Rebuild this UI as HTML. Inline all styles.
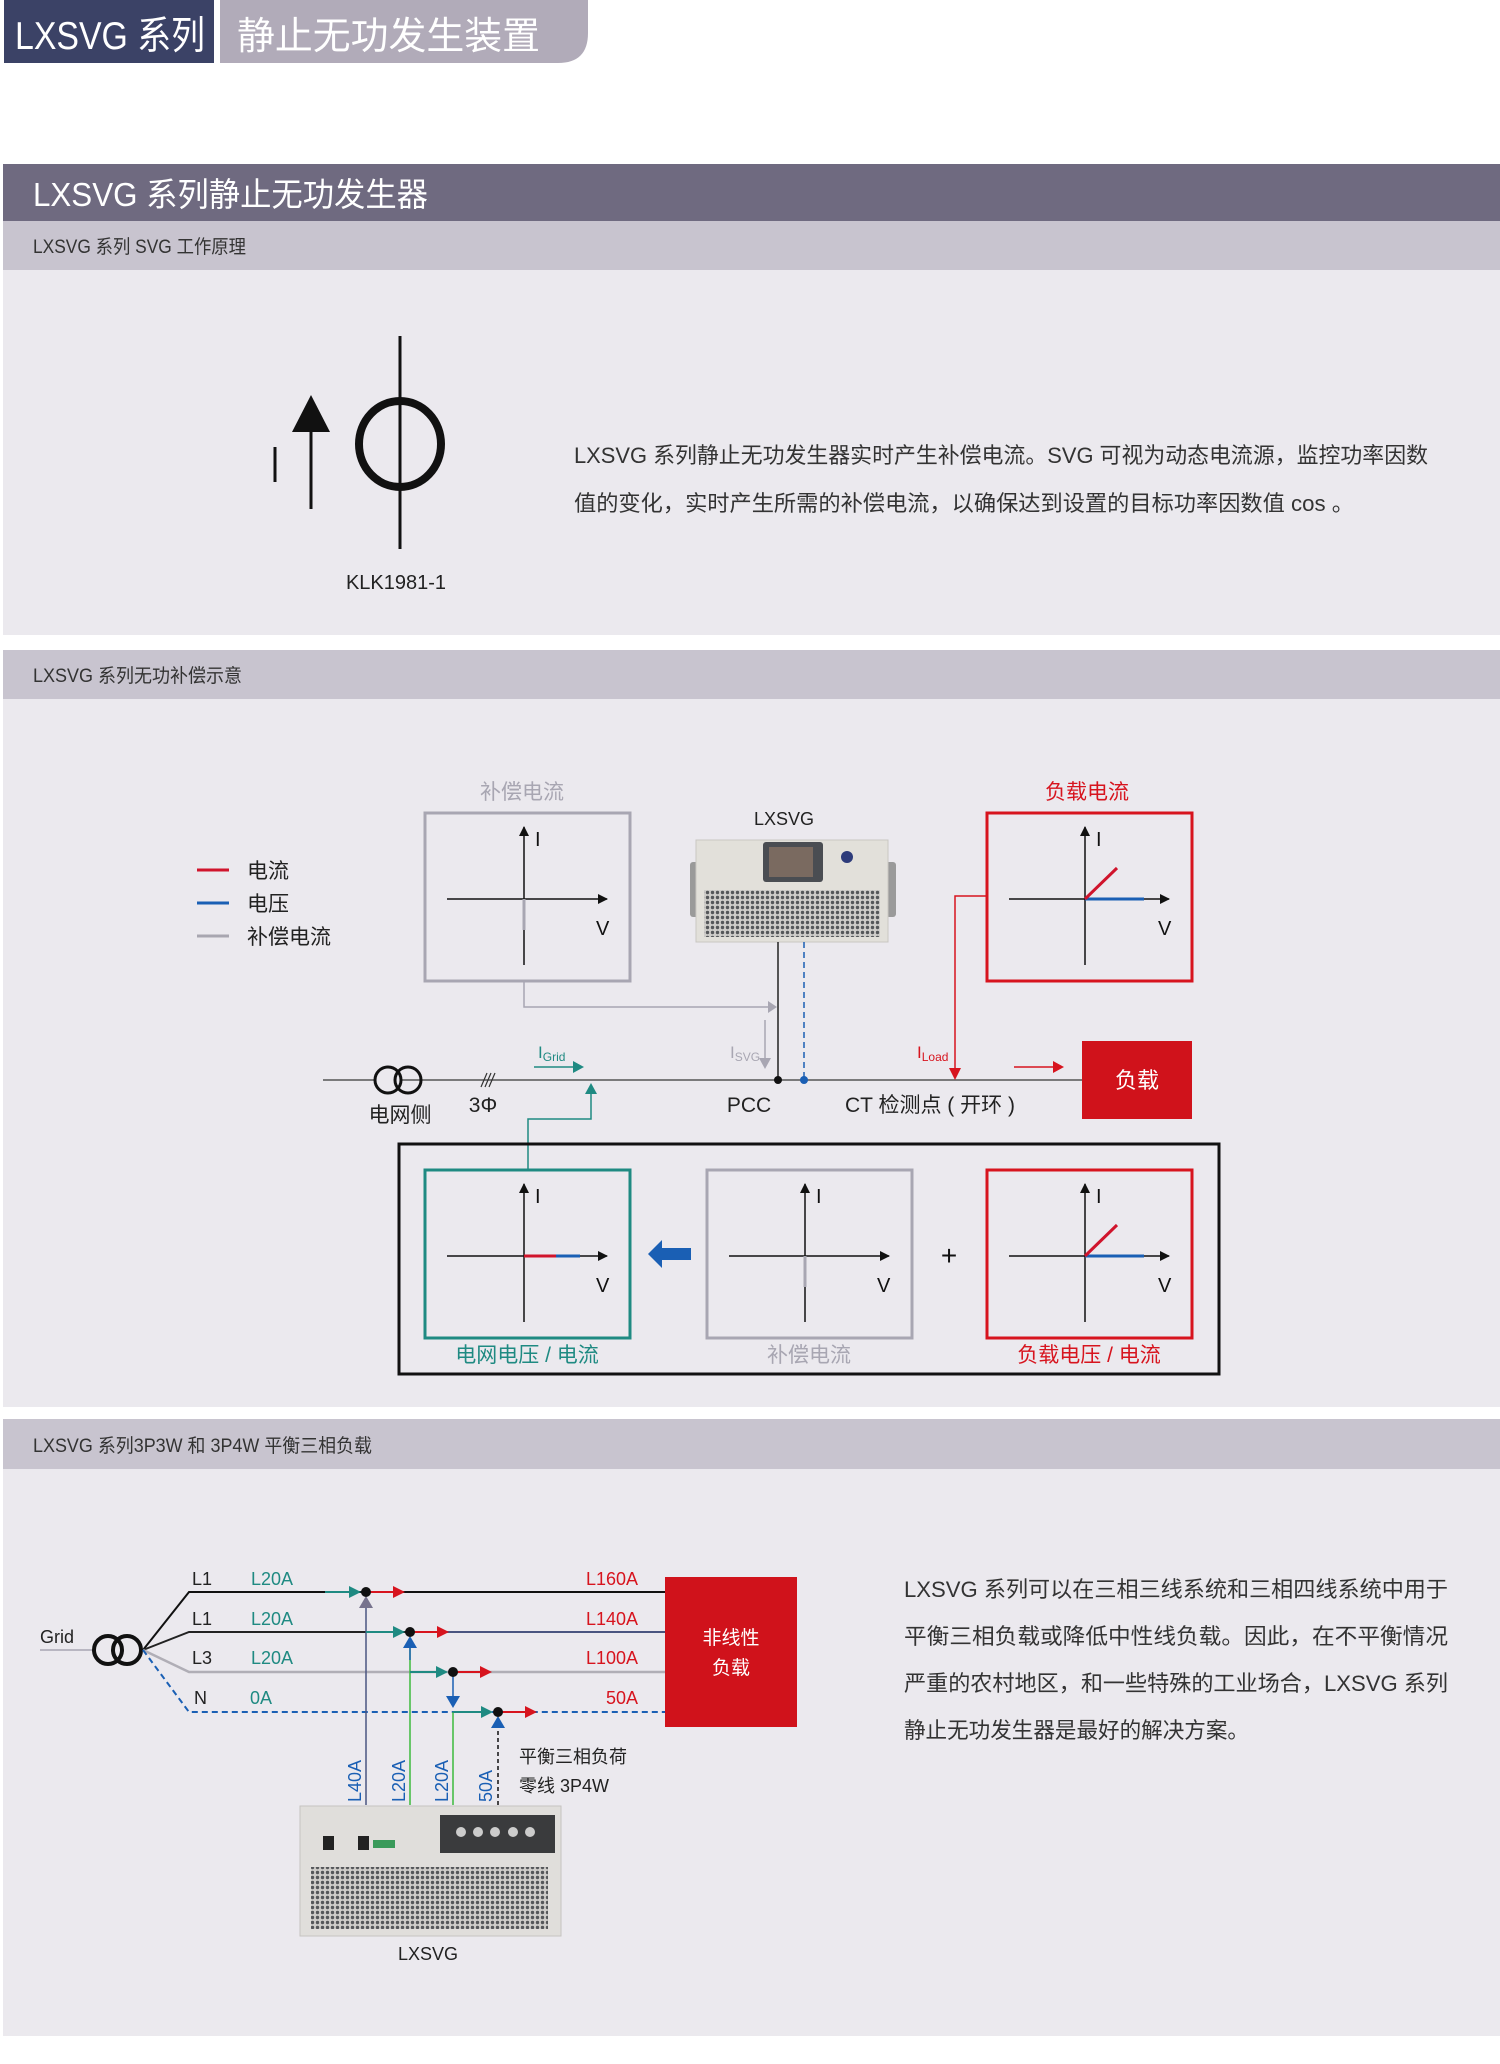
<!DOCTYPE html>
<html><head><meta charset="utf-8"><style>
html,body{margin:0;padding:0;background:#fff;}
svg{display:block;font-family:"Liberation Sans","Noto Sans CJK SC",sans-serif;}
</style></head><body>
<svg width="1500" height="2064" viewBox="0 0 1500 2064" xmlns="http://www.w3.org/2000/svg">
<defs>
<pattern id="holes" width="5" height="5" patternUnits="userSpaceOnUse"><rect width="5" height="5" fill="#cfcdca"/><circle cx="2.5" cy="2.5" r="1.7" fill="#55575a"/></pattern>
<marker id="ak" viewBox="0 0 10 10" refX="9" refY="5" markerWidth="10" markerHeight="10" markerUnits="userSpaceOnUse" orient="auto"><path d="M0,0L10,5L0,10z" fill="#111"/></marker>
</defs>
<rect width="1500" height="2064" fill="#fff"/>
<!-- top tabs -->
<rect x="4" y="0" width="210" height="63" fill="#3b4266"/>
<path d="M220,0H588V33Q588,63 558,63H220Z" fill="#b1abb9"/>
<text x="15" y="49" font-size="39" fill="#fff" textLength="190" lengthAdjust="spacingAndGlyphs">LXSVG 系列</text>
<text x="237" y="49" font-size="38" fill="#fff" textLength="303" lengthAdjust="spacingAndGlyphs">静止无功发生装置</text>

<!-- section 1 -->
<rect x="3" y="164" width="1497" height="57" fill="#6f6a80"/>
<text x="33" y="206" font-size="33" fill="#fff" textLength="395" lengthAdjust="spacingAndGlyphs">LXSVG 系列静止无功发生器</text>
<rect x="3" y="221" width="1497" height="49" fill="#c8c4cf"/>
<text x="33" y="253" font-size="19" fill="#333" textLength="213" lengthAdjust="spacingAndGlyphs">LXSVG 系列 SVG 工作原理</text>
<rect x="3" y="270" width="1497" height="365" fill="#ebe9ee"/>
<line x1="400" y1="336" x2="400" y2="549" stroke="#111" stroke-width="3"/>
<ellipse cx="400" cy="444" rx="41" ry="43" fill="none" stroke="#111" stroke-width="8"/>
<line x1="311" y1="425" x2="311" y2="509" stroke="#111" stroke-width="3"/>
<path d="M292,432L311,395L330,432Z" fill="#111"/>
<line x1="275" y1="447" x2="275" y2="482" stroke="#111" stroke-width="3"/>
<text x="396" y="589" font-size="20" fill="#222" text-anchor="middle">KLK1981-1</text>
<text x="574" y="463" font-size="22" fill="#333" textLength="854" lengthAdjust="spacingAndGlyphs">LXSVG 系列静止无功发生器实时产生补偿电流。SVG 可视为动态电流源，监控功率因数</text>
<text x="574" y="511" font-size="22" fill="#333" textLength="780" lengthAdjust="spacingAndGlyphs">值的变化，实时产生所需的补偿电流，以确保达到设置的目标功率因数值 cos 。</text>

<!-- section 2 -->
<rect x="3" y="650" width="1497" height="49" fill="#c8c4cf"/>
<text x="33" y="682" font-size="19" fill="#333" textLength="209" lengthAdjust="spacingAndGlyphs">LXSVG 系列无功补偿示意</text>
<rect x="3" y="699" width="1497" height="708" fill="#ebe9ee"/>
<!-- legend -->
<line x1="197" y1="870" x2="229" y2="870" stroke="#d0142c" stroke-width="3"/>
<line x1="197" y1="903" x2="229" y2="903" stroke="#1a5fb4" stroke-width="3"/>
<line x1="197" y1="936" x2="229" y2="936" stroke="#a8a6b0" stroke-width="3"/>
<text x="247" y="878" font-size="21" fill="#222">电流</text>
<text x="247" y="911" font-size="21" fill="#222">电压</text>
<text x="247" y="944" font-size="21" fill="#222">补偿电流</text>

<!-- chart boxes -->
<g id="b1">
<rect x="425" y="813" width="205" height="168" fill="none" stroke="#a8a6b2" stroke-width="3"/>
<line x1="524" y1="965" x2="524" y2="827" stroke="#111" stroke-width="1.5" marker-end="url(#ak)"/>
<line x1="447" y1="899" x2="607" y2="899" stroke="#111" stroke-width="1.5" marker-end="url(#ak)"/>
<line x1="524" y1="899" x2="524" y2="930" stroke="#a8a6b2" stroke-width="3"/>
<text x="535" y="846" font-size="20" fill="#111">I</text>
<text x="596" y="935" font-size="20" fill="#111">V</text>
</g>
<text x="522" y="799" font-size="21" fill="#a8a6b2" text-anchor="middle">补偿电流</text>

<rect x="987" y="813" width="205" height="168" fill="none" stroke="#d7141e" stroke-width="3"/>
<line x1="1085" y1="965" x2="1085" y2="827" stroke="#111" stroke-width="1.5" marker-end="url(#ak)"/>
<line x1="1009" y1="899" x2="1169" y2="899" stroke="#111" stroke-width="1.5" marker-end="url(#ak)"/>
<line x1="1085" y1="899" x2="1144" y2="899" stroke="#1a5fb4" stroke-width="3"/>
<line x1="1085" y1="899" x2="1117" y2="868" stroke="#d0142c" stroke-width="3"/>
<text x="1096" y="846" font-size="20" fill="#111">I</text>
<text x="1158" y="935" font-size="20" fill="#111">V</text>
<text x="1087" y="799" font-size="21" fill="#d7141e" text-anchor="middle">负载电流</text>

<!-- device 1 -->
<text x="784" y="825" font-size="18" fill="#222" text-anchor="middle">LXSVG</text>
<rect x="690" y="862" width="10" height="55" rx="3" fill="#9a9a9a"/>
<rect x="886" y="862" width="10" height="55" rx="3" fill="#9a9a9a"/>
<rect x="696" y="840" width="192" height="102" fill="#e2e0da" stroke="#c9c7c2"/>
<rect x="763" y="842" width="60" height="40" rx="3" fill="#4a4d52"/>
<rect x="769" y="847" width="44" height="30" fill="#7a6a60"/>
<circle cx="847" cy="857" r="6" fill="#2d3b7a"/>
<rect x="704" y="890" width="176" height="47" fill="url(#holes)"/>
<!-- lines to PCC -->
<line x1="778" y1="942" x2="778" y2="1080" stroke="#222" stroke-width="1.5"/>
<line x1="804" y1="942" x2="804" y2="1080" stroke="#1a5fb4" stroke-width="1.5" stroke-dasharray="6,4"/>
<path d="M524,981V1007H770" fill="none" stroke="#a8a6b2" stroke-width="1.5"/>
<path d="M768,1001L777,1007L768,1013Z" fill="#a8a6b2"/>
<line x1="765" y1="1020" x2="765" y2="1060" stroke="#a8a6b2" stroke-width="1.5"/>
<path d="M759,1058L765,1069L771,1058Z" fill="#a8a6b2"/>
<text x="730" y="1058" font-size="17" fill="#a8a6b2">I<tspan font-size="12" dy="3">SVG</tspan></text>
<!-- main line -->
<line x1="323" y1="1080" x2="1082" y2="1080" stroke="#555" stroke-width="1.5"/>
<circle cx="388" cy="1080" r="13" fill="#ebe9ee" stroke="#111" stroke-width="3"/>
<circle cx="408" cy="1080" r="13" fill="none" stroke="#111" stroke-width="3"/>
<path d="M481,1087L487,1073M485,1087L491,1073M489,1087L495,1073" stroke="#333" stroke-width="1.2"/>
<text x="400" y="1122" font-size="21" fill="#222" text-anchor="middle">电网侧</text>
<text x="483" y="1112" font-size="21" fill="#222" text-anchor="middle">3Φ</text>
<circle cx="778" cy="1080" r="4" fill="#111"/>
<circle cx="804" cy="1080" r="4" fill="#1a5fb4"/>
<text x="749" y="1112" font-size="21" fill="#222" text-anchor="middle">PCC</text>
<text x="845" y="1112" font-size="21" fill="#222">CT 检测点 ( 开环 )</text>
<!-- I grid -->
<line x1="534" y1="1067" x2="575" y2="1067" stroke="#1f8a82" stroke-width="1.5"/>
<path d="M573,1061L584,1067L573,1073Z" fill="#1f8a82"/>
<text x="538" y="1058" font-size="17" fill="#1f8a82">I<tspan font-size="12" dy="3">Grid</tspan></text>
<path d="M528,1170V1119H591V1092" fill="none" stroke="#1f8a82" stroke-width="1.5"/>
<path d="M585,1094L591,1083L597,1094Z" fill="#1f8a82"/>
<!-- I load -->
<path d="M987,896H955V1070" fill="none" stroke="#d7141e" stroke-width="1.5"/>
<path d="M949,1068L955,1080L961,1068Z" fill="#d7141e"/>
<text x="917" y="1058" font-size="17" fill="#d7141e">I<tspan font-size="12" dy="3">Load</tspan></text>
<line x1="1014" y1="1067" x2="1055" y2="1067" stroke="#d7141e" stroke-width="1.5"/>
<path d="M1053,1061L1064,1067L1053,1073Z" fill="#d7141e"/>
<rect x="1082" y="1041" width="110" height="78" fill="#d0121b"/>
<text x="1137" y="1088" font-size="22" fill="#fff" text-anchor="middle">负载</text>
<!-- bottom big box -->
<rect x="399" y="1144" width="820" height="230" fill="none" stroke="#111" stroke-width="3"/>
<rect x="425" y="1170" width="205" height="168" fill="none" stroke="#1f8a82" stroke-width="3"/>
<line x1="524" y1="1322" x2="524" y2="1184" stroke="#111" stroke-width="1.5" marker-end="url(#ak)"/>
<line x1="447" y1="1256" x2="607" y2="1256" stroke="#111" stroke-width="1.5" marker-end="url(#ak)"/>
<line x1="524" y1="1256" x2="556" y2="1256" stroke="#d0142c" stroke-width="3"/>
<line x1="556" y1="1256" x2="580" y2="1256" stroke="#1a5fb4" stroke-width="3"/>
<text x="535" y="1203" font-size="20" fill="#111">I</text>
<text x="596" y="1292" font-size="20" fill="#111">V</text>
<text x="527" y="1362" font-size="21" fill="#1f8a82" text-anchor="middle">电网电压 / 电流</text>

<rect x="707" y="1170" width="205" height="168" fill="none" stroke="#a8a6b2" stroke-width="3"/>
<line x1="805" y1="1322" x2="805" y2="1184" stroke="#111" stroke-width="1.5" marker-end="url(#ak)"/>
<line x1="729" y1="1256" x2="889" y2="1256" stroke="#111" stroke-width="1.5" marker-end="url(#ak)"/>
<line x1="805" y1="1256" x2="805" y2="1287" stroke="#a8a6b2" stroke-width="3"/>
<text x="816" y="1203" font-size="20" fill="#111">I</text>
<text x="877" y="1292" font-size="20" fill="#111">V</text>
<text x="809" y="1362" font-size="21" fill="#a8a6b2" text-anchor="middle">补偿电流</text>

<rect x="987" y="1170" width="205" height="168" fill="none" stroke="#d7141e" stroke-width="3"/>
<line x1="1085" y1="1322" x2="1085" y2="1184" stroke="#111" stroke-width="1.5" marker-end="url(#ak)"/>
<line x1="1009" y1="1256" x2="1169" y2="1256" stroke="#111" stroke-width="1.5" marker-end="url(#ak)"/>
<line x1="1085" y1="1256" x2="1144" y2="1256" stroke="#1a5fb4" stroke-width="3"/>
<line x1="1085" y1="1256" x2="1117" y2="1225" stroke="#d0142c" stroke-width="3"/>
<text x="1096" y="1203" font-size="20" fill="#111">I</text>
<text x="1158" y="1292" font-size="20" fill="#111">V</text>
<text x="1089" y="1362" font-size="21" fill="#d7141e" text-anchor="middle">负载电压 / 电流</text>

<path d="M648,1254L662,1240V1248H691V1260H662V1268Z" fill="#1a5fb4"/>
<text x="949" y="1265" font-size="28" fill="#111" text-anchor="middle">+</text>

<!-- section 3 -->
<rect x="3" y="1419" width="1497" height="50" fill="#c8c4cf"/>
<text x="33" y="1452" font-size="19" fill="#333" textLength="339" lengthAdjust="spacingAndGlyphs">LXSVG 系列3P3W 和 3P4W 平衡三相负载</text>
<rect x="3" y="1469" width="1497" height="567" fill="#ebe9ee"/>
<text x="40" y="1643" font-size="18" fill="#222">Grid</text>
<line x1="40" y1="1650" x2="92" y2="1650" stroke="#a8a6b2" stroke-width="1.5"/>
<circle cx="108" cy="1650" r="14" fill="none" stroke="#111" stroke-width="4"/>
<circle cx="127" cy="1650" r="14" fill="none" stroke="#111" stroke-width="4"/>
<path d="M143,1650L189,1592H665" fill="none" stroke="#111" stroke-width="2"/>
<path d="M143,1650L189,1632H665" fill="none" stroke="#222" stroke-width="2"/>
<line x1="410" y1="1632" x2="665" y2="1632" stroke="#4a5580" stroke-width="2"/>
<path d="M143,1650L189,1672H665" fill="none" stroke="#b0aeb6" stroke-width="2.5"/>
<path d="M143,1650L189,1712H665" fill="none" stroke="#1a5fb4" stroke-width="2" stroke-dasharray="6,4"/>
<g font-size="18">
<text x="192" y="1585" fill="#222">L1</text><text x="251" y="1585" fill="#1f8a82">L20A</text><text x="638" y="1585" fill="#d7141e" text-anchor="end">L160A</text>
<text x="192" y="1625" fill="#222">L1</text><text x="251" y="1625" fill="#1f8a82">L20A</text><text x="638" y="1625" fill="#d7141e" text-anchor="end">L140A</text>
<text x="192" y="1664" fill="#222">L3</text><text x="251" y="1664" fill="#1f8a82">L20A</text><text x="638" y="1664" fill="#d7141e" text-anchor="end">L100A</text>
<text x="194" y="1704" fill="#222">N</text><text x="250" y="1704" fill="#1f8a82">0A</text><text x="638" y="1704" fill="#d7141e" text-anchor="end">50A</text>
</g>
<rect x="665" y="1577" width="132" height="150" fill="#d0121b"/>
<text x="731" y="1644" font-size="19" fill="#fff" text-anchor="middle">非线性</text>
<text x="731" y="1674" font-size="19" fill="#fff" text-anchor="middle">负载</text>
<!-- verticals -->
<line x1="366" y1="1805" x2="366" y2="1606" stroke="#4a5580" stroke-width="1.5"/>
<path d="M359,1608L366,1596L373,1608Z" fill="#77738d"/>
<line x1="410" y1="1805" x2="410" y2="1646" stroke="#3dbb3d" stroke-width="1.5"/>
<path d="M403,1648L410,1636L417,1648Z" fill="#1a5fb4"/>
<line x1="410" y1="1646" x2="410" y2="1660" stroke="#1a5fb4" stroke-width="1.5"/>
<line x1="453" y1="1805" x2="453" y2="1712" stroke="#3dbb3d" stroke-width="1.5"/>
<line x1="453" y1="1672" x2="453" y2="1698" stroke="#1a5fb4" stroke-width="1.5"/>
<path d="M446,1696L453,1708L460,1696Z" fill="#1a5fb4"/>
<line x1="498" y1="1805" x2="498" y2="1728" stroke="#111" stroke-width="1.5" stroke-dasharray="4,3"/>
<path d="M491,1728L498,1716L505,1728Z" fill="#1a5fb4"/>
<!-- teal branches and arrows -->
<line x1="325" y1="1592" x2="350" y2="1592" stroke="#1f8a82" stroke-width="2"/><path d="M349,1586L361,1592L349,1598Z" fill="#1f8a82"/>
<line x1="366" y1="1632" x2="394" y2="1632" stroke="#1f8a82" stroke-width="2"/><path d="M393,1626L405,1632L393,1638Z" fill="#1f8a82"/>
<line x1="410" y1="1672" x2="437" y2="1672" stroke="#1f8a82" stroke-width="2"/><path d="M436,1666L448,1672L436,1678Z" fill="#1f8a82"/>
<line x1="453" y1="1712" x2="482" y2="1712" stroke="#1f8a82" stroke-width="2"/><path d="M481,1706L493,1712L481,1718Z" fill="#1f8a82"/>
<line x1="366" y1="1592" x2="394" y2="1592" stroke="#d7141e" stroke-width="2"/><path d="M393,1586L405,1592L393,1598Z" fill="#d7141e"/>
<line x1="410" y1="1632" x2="438" y2="1632" stroke="#d7141e" stroke-width="2"/><path d="M437,1626L449,1632L437,1638Z" fill="#d7141e"/>
<line x1="453" y1="1672" x2="481" y2="1672" stroke="#d7141e" stroke-width="2"/><path d="M480,1666L492,1672L480,1678Z" fill="#d7141e"/>
<line x1="498" y1="1712" x2="526" y2="1712" stroke="#d7141e" stroke-width="2"/><path d="M525,1706L537,1712L525,1718Z" fill="#d7141e"/>
<circle cx="366" cy="1592" r="5" fill="#111"/><circle cx="410" cy="1632" r="5" fill="#111"/>
<circle cx="453" cy="1672" r="5" fill="#111"/><circle cx="498" cy="1712" r="5" fill="#111"/>
<g font-size="18" fill="#1a5fb4">
<text transform="translate(361,1802) rotate(-90)">L40A</text>
<text transform="translate(405,1802) rotate(-90)">L20A</text>
<text transform="translate(448,1802) rotate(-90)">L20A</text>
<text transform="translate(492,1802) rotate(-90)">50A</text>
</g>
<text x="519" y="1763" font-size="18" fill="#222">平衡三相负荷</text>
<text x="519" y="1792" font-size="18" fill="#222">零线 3P4W</text>
<!-- device 2 -->
<rect x="300" y="1806" width="261" height="130" fill="#e0dedb" stroke="#c6c4c0"/>
<rect x="440" y="1815" width="115" height="38" fill="#3a3b3d"/>
<g fill="#ccc"><circle cx="461" cy="1832" r="5"/><circle cx="478" cy="1832" r="5"/><circle cx="495" cy="1832" r="5"/><circle cx="513" cy="1832" r="5"/><circle cx="530" cy="1832" r="5"/></g>
<rect x="323" y="1836" width="11" height="14" fill="#222"/><rect x="358" y="1836" width="11" height="14" fill="#222"/>
<rect x="373" y="1840" width="22" height="8" fill="#3a9a5a"/>
<rect x="311" y="1867" width="237" height="62" fill="url(#holes)"/>
<text x="428" y="1960" font-size="18" fill="#222" text-anchor="middle">LXSVG</text>
<!-- paragraph -->
<g font-size="22" fill="#333">
<text x="904" y="1597" textLength="544" lengthAdjust="spacingAndGlyphs">LXSVG 系列可以在三相三线系统和三相四线系统中用于</text>
<text x="904" y="1644" textLength="544" lengthAdjust="spacingAndGlyphs">平衡三相负载或降低中性线负载。因此，在不平衡情况</text>
<text x="904" y="1691" textLength="544" lengthAdjust="spacingAndGlyphs">严重的农村地区，和一些特殊的工业场合，LXSVG 系列</text>
<text x="904" y="1738" textLength="345" lengthAdjust="spacingAndGlyphs">静止无功发生器是最好的解决方案。</text>
</g>
</svg>
</body></html>
